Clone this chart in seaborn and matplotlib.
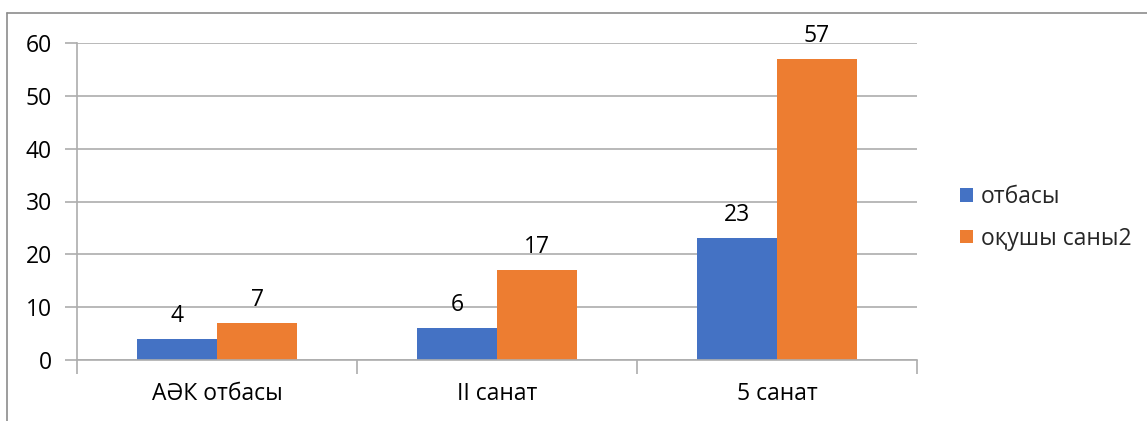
import matplotlib
matplotlib.use("Agg")
import matplotlib.pyplot as plt
import seaborn as sns
import pandas as pd
from matplotlib.lines import Line2D

categories = ["АӘК отбасы", "II санат", "5 санат"]
series_names = ["отбасы", "оқушы саны2"]
otbasy = [4, 6, 23]
okushy = [7, 17, 57]
yticks = [0, 10, 20, 30, 40, 50, 60]

df = pd.DataFrame({
    "cat": categories * 2,
    "series": [series_names[0]] * 3 + [series_names[1]] * 3,
    "val": otbasy + okushy,
})

sns.set_theme(style="white")
plt.rcParams['font.family'] = ['Open Sans', 'DejaVu Sans']

FS = 16.5
fig = plt.figure(figsize=(11.47, 4.21), dpi=100)
ax = fig.add_axes([77/1147, 61/421, 840/1147, 317/421])

colors = ["#4472C4", "#ED7D31"]
sns.barplot(data=df, x="cat", y="val", hue="series", palette=colors,
            width=0.572, saturation=1, ax=ax, legend=True, linewidth=0)

ax.set_xlim(-0.5, 2.5)
ax.set_ylim(0, 60)
ax.set_yticks(yticks)
ax.set_xlabel("")
ax.set_ylabel("")
gray = "#ADADAD"
ax.yaxis.grid(True, color=gray, linewidth=1.2)
ax.set_axisbelow(True)
for s in ["top", "right"]:
    ax.spines[s].set_visible(False)
for s in ["left", "bottom"]:
    ax.spines[s].set_color(gray)
    ax.spines[s].set_linewidth(1.2)
ax.tick_params(axis="y", length=9, width=1.2, color=gray, labelsize=FS, pad=9, left=True)
ax.tick_params(axis="x", which="major", length=0, labelsize=FS, pad=16)
ax.set_xticks([-0.5, 0.5, 1.5, 2.5], minor=True)
ax.tick_params(axis="x", which="minor", length=10, width=1.2, color=gray, bottom=True)
for lab in ax.get_yticklabels() + ax.get_xticklabels():
    lab.set_color("#000000")

for cont in ax.containers:
    ax.bar_label(cont, padding=8, fontsize=FS, color="#000000")

h, l = ax.get_legend_handles_labels()
ax.legend(h, l, loc="center left", bbox_to_anchor=(874/840, 0.448), frameon=False,
          fontsize=FS, handlelength=0.55, handleheight=0.55, handletextpad=0.36,
          labelspacing=0.75, borderaxespad=0)

# outer chart border (top and left visible)
fig.add_artist(Line2D([7/1147, 1], [1 - 13/421, 1 - 13/421], color="#8C8C8C", linewidth=1.2, transform=fig.transFigure))
fig.add_artist(Line2D([7/1147, 7/1147], [0, 1 - 13/421], color="#8C8C8C", linewidth=1.2, transform=fig.transFigure))

fig.savefig("out.png", dpi=100, facecolor="white")
